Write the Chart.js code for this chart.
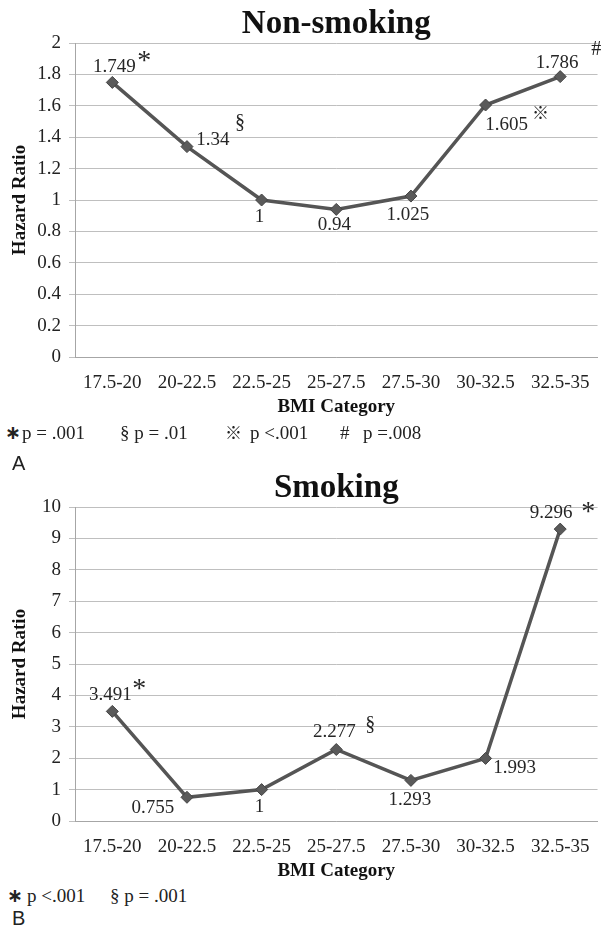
<!DOCTYPE html>
<html>
<head>
<meta charset="utf-8">
<script src="https://cdn.jsdelivr.net/npm/chart.js@4.4.1/dist/chart.umd.min.js"></script>
<style>
body { margin: 0; background: #fff; width: 605px; height: 938px; position: relative; overflow: hidden; font-family: "Times New Roman", "Liberation Serif", "DejaVu Serif", serif; color: #222; }
canvas { position: absolute; left: 0; }
.t { position: absolute; white-space: pre; font-size: 19px; line-height: 22px; }
.star { font-family: "DejaVu Sans", sans-serif; font-weight: bold; font-size: 19px; }
.ref { font-family: "Noto Sans CJK JP", sans-serif; font-size: 17px; }
.panel { position: absolute; left: 12px; font-family: "Liberation Sans", Arial, sans-serif; font-size: 20px; line-height: 22px; }
</style>
</head>
<body>
<canvas id="chartA" width="605" height="420" style="top:0"></canvas>
<canvas id="chartB" width="605" height="420" style="top:464px"></canvas>

<span class="t star" style="left:5px;top:421px">∗</span>
<span class="t" style="left:22px;top:422px">p = .001</span>
<span class="t" style="left:120px;top:422px">§ p = .01</span>
<span class="t ref" style="left:225px;top:421px">※</span>
<span class="t" style="left:250px;top:422px">p &lt;.001</span>
<span class="t" style="left:340px;top:422px">#</span>
<span class="t" style="left:363px;top:422px">p =.008</span>
<div class="panel" style="top:452px">A</div>

<span class="t star" style="left:7px;top:884px">∗</span>
<span class="t" style="left:27px;top:885px">p &lt;.001</span>
<span class="t" style="left:110px;top:885px">§ p = .001</span>
<div class="panel" style="top:907px">B</div>

<script>
const bmiCategories = ['17.5-20', '20-22.5', '22.5-25', '25-27.5', '27.5-30', '30-32.5', '32.5-35'];
const nonSmokingHR = [1.749, 1.34, 1, 0.94, 1.025, 1.605, 1.786];
const smokingHR = [3.491, 0.755, 1, 2.277, 1.293, 1.993, 9.296];
const nonSmokingTicks = [0, 0.2, 0.4, 0.6, 0.8, 1, 1.2, 1.4, 1.6, 1.8, 2];
const smokingTicks = [0, 1, 2, 3, 4, 5, 6, 7, 8, 9, 10];
const nonSmokingMarks = ['*', '§', '', '', '', '※', '#'];
const smokingMarks = ['*', '', '', '§', '', '', '*'];

// where each value label / significance mark sits relative to its point (px)
const labelOffsetA = [[2, -15], [26, -7], [-2, 17], [-2, 16], [-3, 19], [21, 20], [-3, -14]];
const markOffsetA = [[32, -27], [53, -24], null, null, null, [55, 8], [36, -27]];
const labelOffsetB = [[-2, -16], [-34, 11], [-2, 17], [-2, -17], [-1, 20], [29, 10], [-9, -16]];
const markOffsetB = [[27, -28], null, null, [34, -25], null, null, [28, -22]];

const serif = '"Times New Roman", "Liberation Serif", "DejaVu Serif", serif';
const markFonts = {
    '*': '28px ' + serif,
    '§': '20px ' + serif,
    '※': '17px "Noto Sans CJK JP"',
    '#': '20px ' + serif
};

const annotations = {
    id: 'annotations',
    afterDraw(chart, args, opts) {
        const ctx = chart.ctx;
        const area = chart.chartArea;
        ctx.save();
        ctx.fillStyle = '#111';
        ctx.font = 'bold 33px ' + serif;
        ctx.textAlign = 'center';
        ctx.textBaseline = 'alphabetic';
        ctx.fillText(opts.title, (area.left + area.right) / 2, 33);

        const meta = chart.getDatasetMeta(0);
        const values = chart.data.datasets[0].data;
        ctx.fillStyle = '#262626';
        ctx.textBaseline = 'middle';
        meta.data.forEach((pt, i) => {
            const lo = opts.labelOffsets[i];
            ctx.font = '19px ' + serif;
            ctx.fillText(String(values[i]), pt.x + lo[0], pt.y + lo[1]);
            const mo = opts.markOffsets[i];
            if (mo && opts.marks[i]) {
                ctx.font = markFonts[opts.marks[i]];
                const dy = opts.marks[i] === '*' ? 6 : 0;
                ctx.fillText(opts.marks[i], pt.x + mo[0], pt.y + mo[1] + dy);
            }
        });
        ctx.restore();
    }
};

function makeChart(canvasId, values, ticks, title, labelOffsets, markOffsets, marks) {
    return new Chart(document.getElementById(canvasId).getContext('2d'), {
        type: 'line',
        data: {
            labels: bmiCategories,
            datasets: [{
                data: values,
                borderColor: '#555555',
                borderWidth: 3.5,
                pointStyle: 'rectRot',
                pointRadius: 6,
                pointBackgroundColor: '#5a5a5a',
                pointBorderColor: '#444444',
                pointBorderWidth: 1,
                tension: 0
            }]
        },
        options: {
            responsive: false,
            animation: false,
            layout: { padding: { top: 43, right: 1, bottom: 0, left: 0 } },
            plugins: {
                legend: { display: false },
                tooltip: { enabled: false },
                annotations: { title: title, labelOffsets: labelOffsets, markOffsets: markOffsets, marks: marks }
            },
            scales: {
                x: {
                    offset: true,
                    grid: { display: false, drawTicks: false },
                    border: { display: true, color: '#a6a6a6', width: 1 },
                    ticks: { color: '#222', font: { family: serif, size: 19 }, padding: 15, maxRotation: 0, autoSkip: false },
                    title: { display: true, text: 'BMI Category', color: '#111', font: { family: serif, size: 19, weight: 'bold' }, padding: { top: 0, bottom: 2 } },
                    afterFit: scale => { scale.height = 63; }
                },
                y: {
                    min: ticks[0],
                    max: ticks[ticks.length - 1],
                    afterBuildTicks: scale => { scale.ticks = ticks.map(v => ({ value: v })); },
                    grid: { color: '#bfbfbf', lineWidth: 1, tickLength: 6 },
                    border: { display: true, color: '#a6a6a6', width: 1 },
                    ticks: { color: '#222', font: { family: serif, size: 19 }, padding: 8, callback: v => String(+v.toFixed(1)) },
                    title: { display: true, text: 'Hazard Ratio', color: '#111', font: { family: serif, size: 19, weight: 'bold' }, padding: { top: 9, bottom: 0 } },
                    afterFit: scale => { scale.width = 75; }
                }
            }
        },
        plugins: [annotations]
    });
}

makeChart('chartA', nonSmokingHR, nonSmokingTicks, 'Non-smoking', labelOffsetA, markOffsetA, nonSmokingMarks);
makeChart('chartB', smokingHR, smokingTicks, 'Smoking', labelOffsetB, markOffsetB, smokingMarks);
</script>
</body>
</html>
